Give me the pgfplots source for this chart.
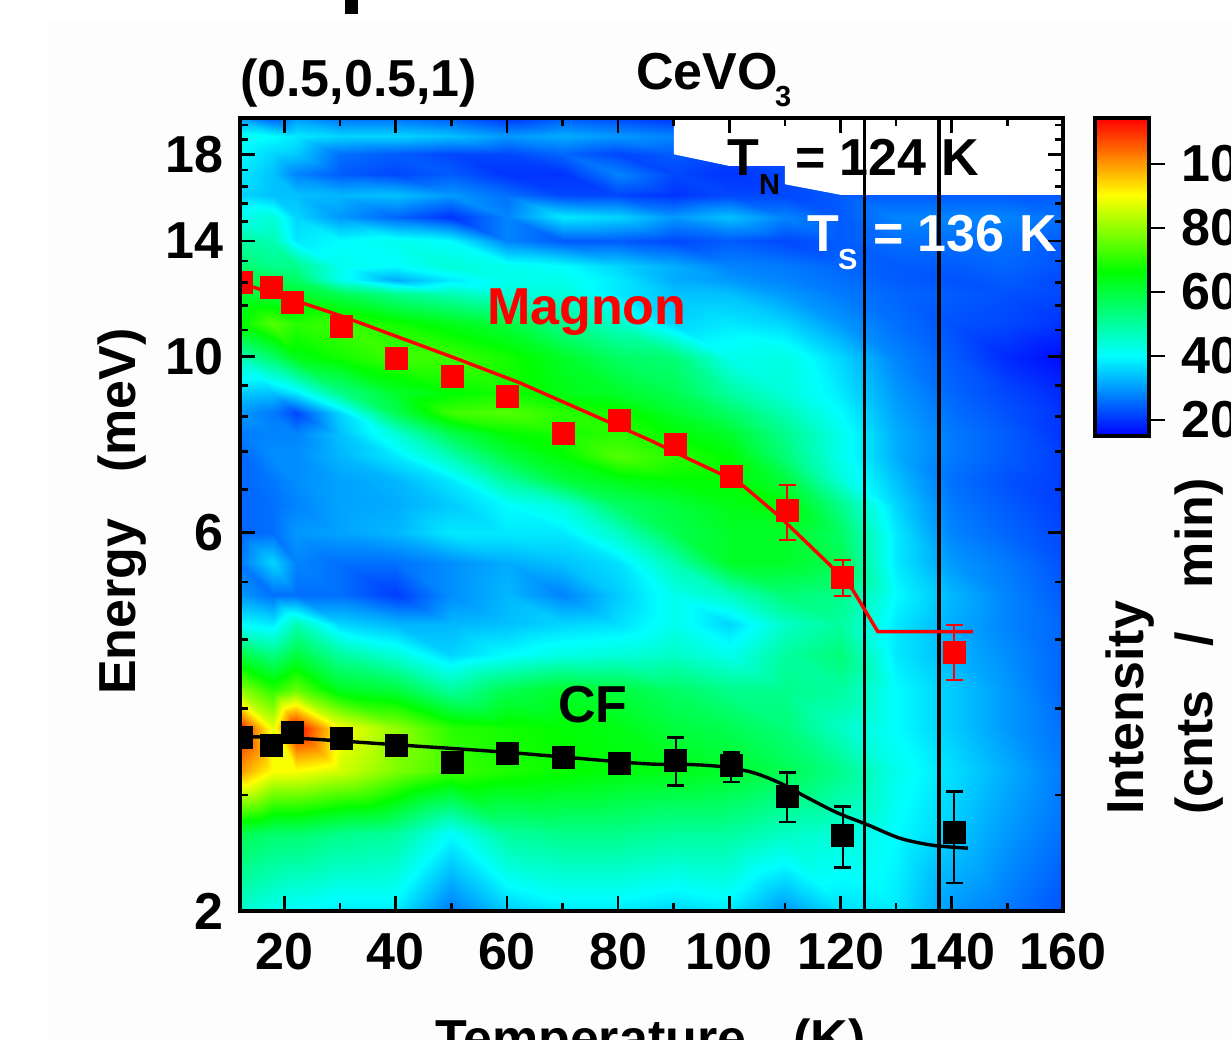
\documentclass[border=0pt]{standalone}
\usepackage{fontspec}
\setmainfont{Liberation Sans}
\usepackage{pgfplots}
\pgfplotsset{compat=1.18}
\pgfplotsset{colormap={cev}{rgb255(0)=(0,0,255); rgb255(25)=(0,255,255); rgb255(51)=(0,255,0); rgb255(75)=(255,255,0); rgb255(99)=(255,0,0)}}
\newcommand{\bigf}{\fontsize{52}{52}\selectfont\bfseries}
\newcommand{\subf}{\fontsize{29}{29}\selectfont\bfseries}
\begin{document}
\begin{tikzpicture}[x=1pt,y=1pt]
\path[use as bounding box] (0,0) rectangle (1231,1039);
\clip (0,0) rectangle (1231,1039);
\fill[color={rgb,255:red,253;green,253;blue,253}] (48,0) rectangle (1231,1019);
\fill[black] (345,1025) rectangle (358,1039);
\begin{axis}[
  at={(240pt,128pt)},anchor=south west,scale only axis,width=823pt,height=793pt,
  xmin=12,xmax=160,ymin=2,ymax=20,ymode=log,log basis y=10,
  xtick={20,40,60,80,100,120,140,160},minor x tick num=1,
  ytick={2,6,10,14,18},yticklabels={2,6,10,14,18},
  minor ytick={2.8,3.6,4.4,5.2,6.8,7.6,8.4,9.2,10.8,11.6,12.4,13.2,14.8,15.6,16.4,17.2,18.8,19.6},
  tick align=inside,tick pos=both,
  major tick length=15pt,minor tick length=8pt,
  every tick/.style={black,line width=2.6pt},
  axis line style={line width=3.4pt},
  tick label style={font=\bigf},
  /pgf/number format/assume math mode=true,
  xticklabel style={yshift=-19pt},
  yticklabel style={xshift=-13pt},
  colormap name=cev,point meta min=15,point meta max=114.4,
  axis on top,clip marker paths=true,
]
\addplot[surf,shader=interp,mesh/cols=17,mesh/rows=28,point meta=\thisrowno{2}] table[header=false,row sep=\\,x index=0,y index=1] {
12 2 45\\18 2 42\\22 2 40\\30 2 38\\40 2 38\\50 2 27\\60 2 35\\70 2 38\\80 2 38\\90 2 36\\100 2 38\\110 2 30\\120 2 37\\130 2 38\\140 2 30\\150 2 27\\160 2 23\\
12 2.5 58\\18 2.5 55\\22 2.5 55\\30 2.5 52\\40 2.5 50\\50 2.5 40\\60 2.5 50\\70 2.5 52\\80 2.5 52\\90 2.5 50\\100 2.5 50\\110 2.5 46\\120 2.5 44\\130 2.5 40\\140 2.5 35\\150 2.5 30\\160 2.5 26\\
12 3 100\\18 3 90\\22 3 90\\30 3 86\\40 3 78\\50 3 72\\60 3 69\\70 3 67\\80 3 65\\90 3 64\\100 3 62\\110 3 58\\120 3 52\\130 3 42\\140 3 37\\150 3 32\\160 3 27\\
12 3.4 112\\18 3.4 88\\22 3.4 114\\30 3.4 90\\40 3.4 80\\50 3.4 70\\60 3.4 68\\70 3.4 66\\80 3.4 64\\90 3.4 60\\100 3.4 58\\110 3.4 54\\120 3.4 46\\130 3.4 40\\140 3.4 35\\150 3.4 30\\160 3.4 26\\
12 3.8 80\\18 3.8 70\\22 3.8 76\\30 3.8 63\\40 3.8 60\\50 3.8 50\\60 3.8 58\\70 3.8 62\\80 3.8 60\\90 3.8 56\\100 3.8 52\\110 3.8 52\\120 3.8 50\\130 3.8 40\\140 3.8 35\\150 3.8 30\\160 3.8 25\\
12 4.2 60\\18 4.2 53\\22 4.2 60\\30 4.2 50\\40 4.2 44\\50 4.2 36\\60 4.2 40\\70 4.2 43\\80 4.2 44\\90 4.2 46\\100 4.2 42\\110 4.2 50\\120 4.2 54\\130 4.2 38\\140 4.2 33\\150 4.2 29\\160 4.2 25\\
12 4.6 40\\18 4.6 38\\22 4.6 48\\30 4.6 36\\40 4.6 33\\50 4.6 33\\60 4.6 34\\70 4.6 36\\80 4.6 37\\90 4.6 42\\100 4.6 36\\110 4.6 46\\120 4.6 50\\130 4.6 38\\140 4.6 32\\150 4.6 28\\160 4.6 25\\
12 5 30\\18 5 26\\22 5 26\\30 5 26\\40 5 21\\50 5 29\\60 5 33\\70 5 28\\80 5 35\\90 5 42\\100 5 46\\110 5 54\\120 5 52\\130 5 40\\140 5 33\\150 5 28\\160 5 24\\
12 5.5 27\\18 5.5 36\\22 5.5 28\\30 5.5 26\\40 5.5 26\\50 5.5 29\\60 5.5 32\\70 5.5 34\\80 5.5 37\\90 5.5 48\\100 5.5 62\\110 5.5 62\\120 5.5 58\\130 5.5 38\\140 5.5 30\\150 5.5 27\\160 5.5 23\\
12 6 25\\18 6 26\\22 6 30\\30 6 31\\40 6 33\\50 6 38\\60 6 38\\70 6 38\\80 6 46\\90 6 58\\100 6 62\\110 6 62\\120 6 56\\130 6 38\\140 6 28\\150 6 25\\160 6 22\\
12 6.5 25\\18 6.5 26\\22 6.5 28\\30 6.5 31\\40 6.5 32\\50 6.5 35\\60 6.5 40\\70 6.5 44\\80 6.5 56\\90 6.5 60\\100 6.5 64\\110 6.5 66\\120 6.5 52\\130 6.5 36\\140 6.5 27\\150 6.5 24\\160 6.5 21\\
12 7 25\\18 7 27\\22 7 29\\30 7 31\\40 7 33\\50 7 38\\60 7 50\\70 7 60\\80 7 64\\90 7 66\\100 7 66\\110 7 60\\120 7 44\\130 7 34\\140 7 26\\150 7 23\\160 7 21\\
12 7.5 25\\18 7.5 29\\22 7.5 29\\30 7.5 33\\40 7.5 38\\50 7.5 48\\60 7.5 60\\70 7.5 66\\80 7.5 74\\90 7.5 70\\100 7.5 66\\110 7.5 54\\120 7.5 42\\130 7.5 32\\140 7.5 27\\150 7.5 24\\160 7.5 21\\
12 8 27\\18 8 28\\22 8 28\\30 8 34\\40 8 44\\50 8 58\\60 8 66\\70 8 68\\80 8 70\\90 8 66\\100 8 62\\110 8 52\\120 8 42\\130 8 32\\140 8 27\\150 8 24\\160 8 20\\
12 8.5 30\\18 8.5 27\\22 8.5 22\\30 8.5 36\\40 8.5 58\\50 8.5 72\\60 8.5 74\\70 8.5 70\\80 8.5 68\\90 8.5 62\\100 8.5 56\\110 8.5 48\\120 8.5 40\\130 8.5 31\\140 8.5 26\\150 8.5 23\\160 8.5 20\\
12 9 35\\18 9 34\\22 9 38\\30 9 52\\40 9 62\\50 9 66\\60 9 68\\70 9 64\\80 9 62\\90 9 58\\100 9 50\\110 9 44\\120 9 38\\130 9 30\\140 9 25\\150 9 22\\160 9 19\\
12 10 48\\18 10 56\\22 10 64\\30 10 68\\40 10 72\\50 10 72\\60 10 68\\70 10 62\\80 10 56\\90 10 54\\100 10 42\\110 10 43\\120 10 36\\130 10 28\\140 10 24\\150 10 19\\160 10 16\\
12 11 66\\18 11 74\\22 11 70\\30 11 72\\40 11 68\\50 11 64\\60 11 60\\70 11 52\\80 11 46\\90 11 36\\100 11 38\\110 11 36\\120 11 30\\130 11 26\\140 11 23\\150 11 22\\160 11 20\\
12 12 60\\18 12 60\\22 12 62\\30 12 58\\40 12 52\\50 12 48\\60 12 44\\70 12 44\\80 12 38\\90 12 34\\100 12 34\\110 12 30\\120 12 27\\130 12 25\\140 12 24\\150 12 23\\160 12 22\\
12 12.5 60\\18 12.5 58\\22 12.5 56\\30 12.5 42\\40 12.5 32\\50 12.5 38\\60 12.5 42\\70 12.5 42\\80 12.5 38\\90 12.5 32\\100 12.5 30\\110 12.5 28\\120 12.5 26\\130 12.5 24\\140 12.5 23\\150 12.5 24\\160 12.5 22\\
12 13 55\\18 13 52\\22 13 52\\30 13 42\\40 13 40\\50 13 44\\60 13 42\\70 13 40\\80 13 36\\90 13 32\\100 13 28\\110 13 27\\120 13 25\\130 13 24\\140 13 24\\150 13 25\\160 13 23\\
12 14 50\\18 14 48\\22 14 38\\30 14 40\\40 14 42\\50 14 40\\60 14 28\\70 14 24\\80 14 24\\90 14 22\\100 14 24\\110 14 22\\120 14 24\\130 14 26\\140 14 26\\150 14 26\\160 14 24\\
12 15 42\\18 15 44\\22 15 36\\30 15 30\\40 15 25\\50 15 20\\60 15 28\\70 15 38\\80 15 36\\90 15 30\\100 15 34\\110 15 28\\120 15 24\\130 15 28\\140 15 28\\150 15 28\\160 15 26\\
12 16 36\\18 16 34\\22 16 34\\30 16 33\\40 16 34\\50 16 30\\60 16 26\\70 16 22\\80 16 22\\90 16 20\\100 16 22\\110 16 22\\120 16 24\\130 16 24\\140 16 24\\150 16 24\\160 16 24\\
12 17 38\\18 17 34\\22 17 28\\30 17 24\\40 17 22\\50 17 24\\60 17 20\\70 17 20\\80 17 28\\90 17 22\\100 17 20\\110 17 22\\120 17 22\\130 17 22\\140 17 22\\150 17 22\\160 17 22\\
12 18 40\\18 18 36\\22 18 35\\30 18 26\\40 18 24\\50 18 22\\60 18 22\\70 18 25\\80 18 22\\90 18 24\\100 18 22\\110 18 22\\120 18 22\\130 18 22\\140 18 22\\150 18 22\\160 18 22\\
12 19 42\\18 19 40\\22 19 38\\30 19 36\\40 19 36\\50 19 34\\60 19 30\\70 19 32\\80 19 30\\90 19 28\\100 19 22\\110 19 22\\120 19 22\\130 19 22\\140 19 22\\150 19 22\\160 19 22\\
12 20 30\\18 20 24\\22 20 30\\30 20 26\\40 20 26\\50 20 24\\60 20 20\\70 20 24\\80 20 22\\90 20 20\\100 20 22\\110 20 22\\120 20 22\\130 20 22\\140 20 22\\150 20 22\\160 20 22\\
};
% region with no data
\addplot[fill=white,draw=none] coordinates {(90,20)(90,18)(100,17.4)(110,17.4)(110,16.5)(120,16)(160,16)(160,20)} --cycle;
% vertical lines
\addplot[black,line width=3.2pt] coordinates {(124.3,2)(124.3,20)};
\addplot[black,line width=3.2pt] coordinates {(137.7,2)(137.7,20)};
% fits
\addplot[red,line width=3.4pt,line join=round] coordinates {(12,12.39)(23.2,11.69)(30.3,11.25)(51.5,9.91)(62.3,9.27)(85.7,7.85)(92.4,7.45)(101.9,6.93)(109.1,6.28)(118.1,5.46)(122.2,5.08)(126.7,4.50)(143.8,4.50)};
\addplot[black,line width=3.4pt,smooth] coordinates {(12,3.32)(23.2,3.30)(40.2,3.24)(60.1,3.17)(83.9,3.07)(92.9,3.06)(98.8,3.04)(104.2,2.99)(109.1,2.90)(114,2.78)(119.4,2.66)(124.8,2.57)(130.7,2.47)(136.6,2.42)(142.9,2.40)};
% points
\addplot[only marks,red,mark=square*,mark size=11pt,mark options={draw=red,fill=red,line width=0pt},
  error bars/.cd,y dir=both,y explicit,error bar style={line width=2.6pt,red},error mark options={rotate=90,line width=2.6pt,mark size=8.5pt,red}]
 coordinates {(12.3,12.39)(17.7,12.21)(21.4,11.69)(30.3,10.93)(40.2,9.96)(50.2,9.45)(60.1,8.92)(70.2,8.01)(80.3,8.30)(90.4,7.74)(100.3,7.07)
 (110.4,6.39) += (0,0.50) -= (0,0.52)
 (120.4,5.27) += (0,0.27) -= (0,0.28)
 (140.4,4.24) += (0,0.35) -= (0,0.33)};
\addplot[only marks,black,mark=square*,mark size=11pt,mark options={draw=black,fill=black,line width=0pt},
  error bars/.cd,y dir=both,y explicit,error bar style={line width=2.6pt,black},error mark options={rotate=90,line width=2.6pt,mark size=8.5pt,black}]
 coordinates {(12.3,3.31)(17.7,3.23)(21.4,3.36)(30.3,3.30)(40.2,3.23)(50.2,3.08)(60.1,3.16)(70.2,3.12)(80.3,3.07)
 (90.4,3.10) += (0,0.21) -= (0,0.22)
 (100.3,3.05) += (0,0.12) -= (0,0.14)
 (110.4,2.79) += (0,0.20) -= (0,0.20)
 (120.4,2.49) += (0,0.22) -= (0,0.22)
 (140.4,2.51) += (0,0.32) -= (0,0.34)};
\end{axis}
% colour bar
\begin{axis}[
  at={(1095pt,603pt)},anchor=south west,scale only axis,width=54pt,height=318pt,
  xmin=0,xmax=1,ymin=15,ymax=114.4,
  xtick=\empty,ytick={20,40,60,80,100},
  tick align=outside,ytick pos=right,major tick length=16pt,
  every tick/.style={black,line width=2.6pt},
  axis line style={line width=3.4pt},
  tick label style={font=\bigf},
  /pgf/number format/assume math mode=true,
  yticklabel style={xshift=13pt},
  colormap name=cev,point meta min=15,point meta max=114.4,
  axis on top,
]
\addplot[surf,shader=interp,mesh/cols=2,mesh/rows=2,point meta=\thisrowno{2}] table[header=false,row sep=\\,x index=0,y index=1] {
0 15 15\\1 15 15\\
0 114.4 114.4\\1 114.4 114.4\\
};
\end{axis}
% text, placed by page coordinates
\node[anchor=base west,inner sep=0pt,font=\bigf] at (240,942) {(0.5,0.5,1)};
\node[anchor=base west,inner sep=0pt,font=\bigf] at (636,949) {CeVO};
\node[anchor=base west,inner sep=0pt,font=\subf] at (775,932) {3};
\node[anchor=base west,inner sep=0pt,font=\bigf,red] at (487,714) {Magnon};
\node[anchor=base west,inner sep=0pt,font=\bigf] at (558,316) {CF};
\node[anchor=base west,inner sep=0pt,font=\bigf] at (727,863) {T};
\node[anchor=base west,inner sep=0pt,font=\subf] at (759,844) {N};
\node[anchor=base west,inner sep=0pt,font=\bigf] at (795,863) {= 124 K};
\node[anchor=base west,inner sep=0pt,font=\bigf,white] at (807,787) {T};
\node[anchor=base west,inner sep=0pt,font=\subf,white] at (838,769) {S};
\node[anchor=base west,inner sep=0pt,font=\bigf,white] at (873,787) {= 136 K};
\node[anchor=base west,inner sep=0pt,font=\bigf,rotate=90] at (135,344) {Energy\hspace{46pt}(meV)};
\node[anchor=base west,inner sep=0pt,font=\bigf] at (435,-17) {Temperature\hspace{47pt}(K)};
\node[anchor=base west,inner sep=0pt,font=\bigf,rotate=90] at (1143,224) {Intensity};
\node[anchor=base west,inner sep=0pt,font=\bigf,rotate=90] at (1212,224) {(cnts\hspace{44pt}/\hspace{44pt}min)};
\end{tikzpicture}
\end{document}
